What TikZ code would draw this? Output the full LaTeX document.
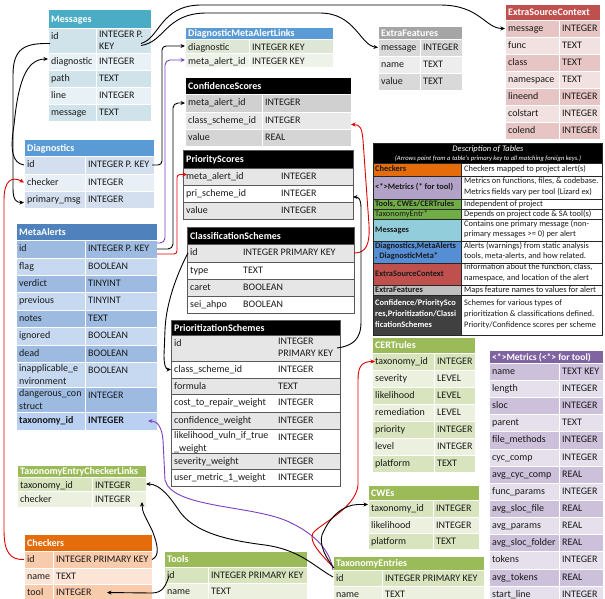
\documentclass[tikz,border=0pt]{standalone}
\usepackage{fontspec}
\setmainfont{Carlito}
\usetikzlibrary{arrows.meta,fit}

% palette
\definecolor{txt}{HTML}{1A1A1A}
\definecolor{msgH}{HTML}{4BACC6}\definecolor{msgA}{HTML}{D0E3EA}\definecolor{msgB}{HTML}{E8F1F5}
\definecolor{dgH}{HTML}{5B9BD5}\definecolor{dgA}{HTML}{D3DFEE}\definecolor{dgB}{HTML}{E9EFF7}
\definecolor{maH}{HTML}{4F81BD}\definecolor{maA}{HTML}{9DBBE1}\definecolor{maB}{HTML}{C6D9F1}\definecolor{maT}{HTML}{B9D0F3}
\definecolor{dmlA}{HTML}{DEE7D5}\definecolor{dmlB}{HTML}{EEF3E9}
\definecolor{gA}{HTML}{D0D0D0}\definecolor{gB}{HTML}{E8E8E8}\definecolor{gC}{HTML}{D5D5D5}
\definecolor{psA}{HTML}{E6E6E6}\definecolor{brd}{HTML}{595959}
\definecolor{efH}{HTML}{A5A5A5}\definecolor{efA}{HTML}{D9D9D9}\definecolor{efB}{HTML}{EDEDED}
\definecolor{escH}{HTML}{C0504D}\definecolor{escA}{HTML}{E6C5C4}\definecolor{escB}{HTML}{F2E1E1}
\definecolor{grH}{HTML}{9BBB59}\definecolor{grA}{HTML}{D7E4BD}\definecolor{grB}{HTML}{EBF1DE}
\definecolor{chkH}{HTML}{E46C0A}\definecolor{chkA}{HTML}{F8CBAD}\definecolor{chkB}{HTML}{FCE4D6}
\definecolor{metH}{HTML}{8064A2}\definecolor{metA}{HTML}{CCC0DA}\definecolor{metB}{HTML}{E5E0EC}
\definecolor{dMet}{HTML}{B3A2C7}\definecolor{dGrn}{HTML}{70AD47}\definecolor{dMsg}{HTML}{92CDDC}
\definecolor{dDg}{HTML}{558ED5}\definecolor{dEf}{HTML}{BFBFBF}\definecolor{dConf}{HTML}{404040}
\definecolor{lred}{HTML}{E00000}\definecolor{lpurple}{HTML}{7B3FC0}

\newcommand\tabfont{\fontsize{10}{12.5}\selectfont}
\newcommand\descfont{\fontsize{8.4}{10.7}\selectfont}
\newcommand\desclfont{\fontsize{8.4}{10.7}\selectfont\bfseries}

\tikzset{
  rowbox/.style={inner sep=0pt, outer sep=0pt, draw=white, line width=0.8pt},
  headbox/.style={inner sep=0pt, outer sep=0pt, draw=white, line width=0.8pt},
  celltxt/.style={anchor=north west, inner sep=0pt, font=\tabfont, text=txt, align=left, execute at begin node=\strut},
  headtxt/.style={anchor=base west, inner sep=0pt, font=\tabfont\bfseries, text=white},
  colsep/.style={draw=white, line width=0.8pt},
  descbox/.style={inner sep=0pt, outer sep=0pt, draw=black!85, line width=0.6pt},
  desctxt/.style={anchor=west, inner sep=0pt, align=left, font=\descfont, text=txt,
    execute at begin node=\strut, execute at end node=\strut},
  link/.style={line width=0.9pt, -{Stealth[length=4.5pt,width=4pt]}},
}

% header bar: name, x0, x1, ytop, ybot, options, title
\newcommand\thead[7]{%
  \node[headbox, #6, fit={(#2,#4) (#3,#5)}] (#1) {};
  \node[headtxt] (#1-n) at ({#2+3},{(#4+#5)/2+3.5}) {#7};
}
% table row: name, x0, xsplit, x1, ytop, ybot, options, field, type
\newcommand\trow[9]{%
  \node[rowbox, #7, fit={(#2,#5) (#4,#6)}] (#1) {};
  \path[colsep] (#3,#5) -- (#3,#6);
  \node[celltxt] (#1-n) at ({#2+3},{#5+2.5}) {#8};
  \node[celltxt] (#1-t) at ({#3+3},{#5+2.5}) {#9};
}
% description row: name, ytop, ybot, fill, text colour, left, right
\newcommand\drow[7]{%
  \node[descbox, fill=#4, fit={(373,#2) (461,#3)}] (#1-l) {};
  \node[descbox, fill=white, fit={(461,#2) (602,#3)}] (#1-r) {};
  \node[desctxt, text=#5, font=\desclfont] (#1-lt) at (375,{(#2+#3)/2}) {#6};
  \node[desctxt] (#1-rt) at (464,{(#2+#3)/2}) {#7};
}

\begin{document}
\begin{tikzpicture}[x=1pt,y=-1pt]
\useasboundingbox (0,0) rectangle (605,598);
\clip (0,0) rectangle (605,598);
\fill[white] (0,0) rectangle (605,598);

% ---------------- Messages
\thead{msg}{48}{151}{9}{28}{fill=msgH}{Messages}
\trow{msg-id}{48}{96}{151}{28}{53}{fill=msgA}{id}{INTEGER P.\\KEY}
\trow{msg-diag}{48}{96}{151}{53}{70}{fill=msgB}{diagnostic}{INTEGER}
\trow{msg-path}{48}{96}{151}{70}{87}{fill=msgA}{path}{TEXT}
\trow{msg-line}{48}{96}{151}{87}{104}{fill=msgB}{line}{INTEGER}
\trow{msg-text}{48}{96}{151}{104}{121}{fill=msgA}{message}{TEXT}

% ---------------- Diagnostics
\thead{dg}{24}{154}{139}{156}{fill=dgH}{Diagnostics}
\trow{dg-id}{24}{85}{154}{156}{174}{fill=dgA}{id}{INTEGER P. KEY}
\trow{dg-chk}{24}{85}{154}{174}{191}{fill=dgB}{checker}{INTEGER}
\trow{dg-pm}{24}{85}{154}{191}{208}{fill=dgA}{primary\_msg}{INTEGER}

% ---------------- MetaAlerts
\thead{ma}{16}{157}{223}{240}{fill=maH}{MetaAlerts}
\trow{ma-id}{16}{85}{157}{240}{258}{fill=maA}{id}{INTEGER P. KEY}
\trow{ma-flag}{16}{85}{157}{258}{275}{fill=maB}{flag}{BOOLEAN}
\trow{ma-verdict}{16}{85}{157}{275}{292}{fill=maA}{verdict}{TINYINT}
\trow{ma-prev}{16}{85}{157}{292}{310}{fill=maB}{previous}{TINYINT}
\trow{ma-notes}{16}{85}{157}{310}{327}{fill=maA}{notes}{TEXT}
\trow{ma-ign}{16}{85}{157}{327}{345}{fill=maB}{ignored}{BOOLEAN}
\trow{ma-dead}{16}{85}{157}{345}{362}{fill=maA}{dead}{BOOLEAN}
\trow{ma-inapp}{16}{85}{157}{362}{387}{fill=maB}{inapplicable\_e\\nvironment}{BOOLEAN}
\trow{ma-dang}{16}{85}{157}{387}{412}{fill=maA}{dangerous\_con\\struct}{INTEGER}
\trow{ma-tax}{16}{85}{157}{412}{430}{fill=maT}{\textbf{taxonomy\_id}}{\textbf{INTEGER}}

% ---------------- DiagnosticMetaAlertLinks
\thead{dml}{185}{333}{27}{39}{fill=dgH}{DiagnosticMetaAlertLinks}
\trow{dml-diag}{185}{249}{333}{39}{53}{fill=dmlA}{diagnostic}{INTEGER KEY}
\trow{dml-ma}{185}{249}{333}{53}{67}{fill=dmlB}{meta\_alert\_id}{INTEGER KEY}

% ---------------- ConfidenceScores
\thead{cs}{185}{351}{77}{94}{fill=black}{ConfidenceScores}
\trow{cs-ma}{185}{262}{351}{94}{112}{fill=gA}{meta\_alert\_id}{INTEGER}
\trow{cs-cls}{185}{262}{351}{112}{129}{fill=gB}{class\_scheme\_id}{INTEGER}
\trow{cs-val}{185}{262}{351}{129}{146}{fill=gC}{value}{REAL}

% ---------------- ExtraFeatures
\thead{ef}{378}{462}{26}{39}{fill=efH}{ExtraFeatures}
\trow{ef-msg}{378}{420}{462}{39}{56}{fill=efA}{message}{INTEGER}
\trow{ef-name}{378}{420}{462}{56}{73}{fill=efB}{name}{TEXT}
\trow{ef-val}{378}{420}{462}{73}{90}{fill=efA}{value}{TEXT}

% ---------------- ExtraSourceContext
\thead{esc}{505}{600}{4}{20}{fill=escH}{ExtraSourceContext}
\trow{esc-msg}{505}{559}{600}{20}{37}{fill=escA}{message}{INTEGER}
\trow{esc-func}{505}{559}{600}{37}{54}{fill=escB}{func}{TEXT}
\trow{esc-class}{505}{559}{600}{54}{71}{fill=escA}{class}{TEXT}
\trow{esc-ns}{505}{559}{600}{71}{88}{fill=escB}{namespace}{TEXT}
\trow{esc-le}{505}{559}{600}{88}{105}{fill=escA}{lineend}{INTEGER}
\trow{esc-cs}{505}{559}{600}{105}{122}{fill=escB}{colstart}{INTEGER}
\trow{esc-ce}{505}{559}{600}{122}{139}{fill=escA}{colend}{INTEGER}

% ---------------- framed grey tables
\begin{scope}[colsep/.style={draw=none}]
\thead{ps}{183}{353}{150}{168}{fill=black, draw=brd}{PriorityScores}
\trow{ps-ma}{183}{278}{353}{168}{185}{fill=psA, draw=brd}{meta\_alert\_id}{INTEGER}
\trow{ps-pri}{183}{278}{353}{185}{202}{fill=white, draw=brd}{pri\_scheme\_id}{INTEGER}
\trow{ps-val}{183}{278}{353}{202}{219}{fill=psA, draw=brd}{value}{INTEGER}

\thead{cls}{187}{354}{227}{244}{fill=black, draw=brd}{ClassificationSchemes}
\trow{cls-id}{187}{240}{354}{244}{262}{fill=psA, draw=brd}{id}{INTEGER PRIMARY KEY}
\trow{cls-type}{187}{240}{354}{262}{279}{fill=white, draw=brd}{type}{TEXT}
\trow{cls-caret}{187}{240}{354}{279}{296}{fill=psA, draw=brd}{caret}{BOOLEAN}
\trow{cls-sei}{187}{240}{354}{296}{313}{fill=white, draw=brd}{sei\_ahpo}{BOOLEAN}

\thead{pz}{171}{340}{320}{335}{fill=black, draw=brd}{PrioritizationSchemes}
\trow{pz-id}{171}{275}{340}{335}{361}{fill=psA, draw=brd}{id}{INTEGER\\PRIMARY KEY}
\trow{pz-cls}{171}{275}{340}{361}{378}{fill=white, draw=brd}{class\_scheme\_id}{INTEGER}
\trow{pz-form}{171}{275}{340}{378}{394}{fill=psA, draw=brd}{formula}{TEXT}
\trow{pz-cost}{171}{275}{340}{394}{412}{fill=white, draw=brd}{cost\_to\_repair\_weight}{INTEGER}
\trow{pz-conf}{171}{275}{340}{412}{429}{fill=psA, draw=brd}{confidence\_weight}{INTEGER}
\trow{pz-like}{171}{275}{340}{429}{453}{fill=white, draw=brd}{likelihood\_vuln\_if\_true\\\_weight}{INTEGER}
\trow{pz-sev}{171}{275}{340}{453}{469}{fill=psA, draw=brd}{severity\_weight}{INTEGER}
\trow{pz-user}{171}{275}{340}{469}{486}{fill=white, draw=brd}{user\_metric\_1\_weight}{INTEGER}
\end{scope}

% ---------------- Description of tables
\node[descbox, fill=black, fit={(373,143) (602,163)}] (desc) {};
\node[inner sep=0pt, font=\fontsize{8.5}{9}\selectfont\itshape, text=white] (desc-title) at (488,149.5) {Description of Tables};
\node[inner sep=0pt, font=\fontsize{6.6}{7}\selectfont\itshape, text=white] (desc-sub) at (488,158.5) {(Arrows point from a table's primary key to all matching foreign keys.)};
\drow{d1}{163}{176}{chkH}{txt}{Checkers}{Checkers mapped to project alert(s)}
\drow{d2}{176}{199}{dMet}{txt}{<*>Metrics (* for tool)}{Metrics on functions, files, \& codebase.\\Metrics fields vary per tool (Lizard ex)}
\drow{d3}{199}{209}{dGrn}{txt}{Tools, CWEs/CERTrules}{Independent of project}
\drow{d4}{209}{219}{dGrn}{txt}{\mdseries TaxonomyEntr*}{Depends on project code \& SA tool(s)}
\drow{d5}{219}{241}{dMsg}{txt}{Messages}{Contains one primary message (non-\\primary messages >= 0) per alert}
\drow{d6}{241}{263}{dDg}{txt}{Diagnostics,MetaAlerts\\, DiagnosticMeta*}{Alerts (warnings) from static analysis\\tools, meta-alerts, and how related.}
\drow{d7}{263}{285}{escH}{txt}{ExtraSourceContext}{Information about the function, class,\\namespace, and location of the alert}
\drow{d8}{285}{295}{dEf}{txt}{ExtraFeatures}{Maps feature names to values for alert}
\drow{d9}{295}{335}{dConf}{white}{Confidence/PrioritySco\\res,Prioritization/Classi\\ficationSchemes}{Schemes for various types of\\prioritization \& classifications defined.\\Priority/Confidence scores per scheme}

% ---------------- CERTrules
\thead{cert}{372}{475}{337}{353}{fill=grH}{CERTrules}
\trow{cert-tax}{372}{434}{475}{353}{370}{fill=grA}{taxonomy\_id}{INTEGER}
\trow{cert-sev}{372}{434}{475}{370}{387}{fill=grB}{severity}{LEVEL}
\trow{cert-like}{372}{434}{475}{387}{404}{fill=grA}{likelihood}{LEVEL}
\trow{cert-rem}{372}{434}{475}{404}{421}{fill=grB}{remediation}{LEVEL}
\trow{cert-pri}{372}{434}{475}{421}{438}{fill=grA}{priority}{INTEGER}
\trow{cert-lvl}{372}{434}{475}{438}{455}{fill=grB}{level}{INTEGER}
\trow{cert-plat}{372}{434}{475}{455}{472}{fill=grA}{platform}{TEXT}

% ---------------- CWEs
\thead{cwe}{368}{479}{485}{500}{fill=grH}{CWEs}
\trow{cwe-tax}{368}{433}{479}{500}{517}{fill=grA}{taxonomy\_id}{INTEGER}
\trow{cwe-like}{368}{433}{479}{517}{533}{fill=grB}{likelihood}{INTEGER}
\trow{cwe-plat}{368}{433}{479}{533}{549}{fill=grA}{platform}{TEXT}

% ---------------- <*>Metrics
\thead{met}{489}{603}{350}{363}{fill=metH}{\fontsize{9.6}{11}\selectfont <*>Metrics (<*> for tool)}
\trow{met-1}{489}{559}{603}{363}{380}{fill=metA}{name}{TEXT KEY}
\trow{met-2}{489}{559}{603}{380}{397}{fill=metB}{length}{INTEGER}
\trow{met-3}{489}{559}{603}{397}{414.5}{fill=metA}{sloc}{INTEGER}
\trow{met-4}{489}{559}{603}{414.5}{431.5}{fill=metB}{parent}{TEXT}
\trow{met-5}{489}{559}{603}{431.5}{449}{fill=metA}{file\_methods}{INTEGER}
\trow{met-6}{489}{559}{603}{449}{466}{fill=metB}{cyc\_comp}{INTEGER}
\trow{met-7}{489}{559}{603}{466}{483}{fill=metA}{avg\_cyc\_comp}{REAL}
\trow{met-8}{489}{559}{603}{483}{500}{fill=metB}{func\_params}{INTEGER}
\trow{met-9}{489}{559}{603}{500}{517.5}{fill=metA}{avg\_sloc\_file}{REAL}
\trow{met-10}{489}{559}{603}{517.5}{534.5}{fill=metB}{avg\_params}{REAL}
\trow{met-11}{489}{559}{603}{534.5}{551.5}{fill=metA}{avg\_sloc\_folder}{REAL}
\trow{met-12}{489}{559}{603}{551.5}{569}{fill=metB}{tokens}{INTEGER}
\trow{met-13}{489}{559}{603}{569}{586}{fill=metA}{avg\_tokens}{REAL}
\trow{met-14}{489}{559}{603}{586}{603}{fill=metB}{start\_line}{INTEGER}

% ---------------- TaxonomyEntryCheckerLinks
\thead{tecl}{17}{146}{465}{477}{fill=grH}{TaxonomyEntryCheckerLinks}
\trow{tecl-tax}{17}{92}{146}{477}{491}{fill=grA}{taxonomy\_id}{INTEGER}
\trow{tecl-chk}{17}{92}{146}{491}{507}{fill=grB}{checker}{INTEGER}

% ---------------- Checkers
\thead{chk}{24}{152}{534}{551}{fill=chkH}{Checkers}
\trow{chk-id}{24}{53}{152}{551}{568}{fill=chkA}{id}{INTEGER PRIMARY KEY}
\trow{chk-name}{24}{53}{152}{568}{584}{fill=chkB}{name}{TEXT}
\trow{chk-tool}{24}{53}{152}{584}{601}{fill=chkA}{tool}{INTEGER}

% ---------------- Tools
\thead{tool}{164}{307}{551}{567}{fill=grH}{Tools}
\trow{tool-id}{164}{208}{307}{567}{583}{fill=grA}{id}{INTEGER PRIMARY KEY}
\trow{tool-name}{164}{208}{307}{583}{600}{fill=grB}{name}{TEXT}

% ---------------- TaxonomyEntries
\thead{te}{333}{484}{556}{570}{fill=grH}{TaxonomyEntries}
\trow{te-id}{333}{382}{484}{570}{586}{fill=grA}{id}{INTEGER PRIMARY KEY}
\trow{te-name}{333}{382}{484}{586}{602}{fill=grB}{name}{TEXT}

% ================= key links
% Messages.id
\draw[link] ([xshift=-10pt,yshift=-3pt]msg-id.east) .. controls (160,38) and (160,6) .. (200,5)
  -- (440,5) .. controls (480,5) and (485,28.5) .. (esc-msg.west);
\draw[link] ([xshift=-10pt,yshift=-5pt]msg-id.east) .. controls (165,42) and (165,14) .. (205,13)
  -- (320,13) .. controls (355,13) and (360,45) .. (ef-msg.west);
\draw[link] ([xshift=2pt,yshift=-3pt]msg-id.west) .. controls (25,43) and (13,48) .. (13,75)
  -- (13,188) .. controls (13,200) and (16,202.5) .. ([yshift=-3pt]dg-pm.west);
% Diagnostics.id
\draw[link] (dg-id.west) .. controls (12,163) and (10,150) .. (14,125)
  .. controls (18,85) and (25,59) .. ([yshift=2.5pt]msg-diag.west);
\draw[link, rounded corners=4pt] ([xshift=-2pt]dg-id.east) -- ++(10,0) |- (dml-diag.west);
% MetaAlerts.id
\draw[link, draw=lpurple, rounded corners=5pt] ([yshift=6pt]ma-id.east) -- ++(8,0) |- (dml-ma.west);
\draw[link, rounded corners=5pt] (ma-id.east) -- ++(16,0) |- (cs-ma.west);
\draw[link, draw=lred, rounded corners=3pt] ([yshift=-5pt]ma-id.east) -- ++(20,0) |- ([xshift=4pt,yshift=2pt]ps-ma.west);
% ClassificationSchemes.id
\draw[link, draw=lred] (cls-id.east) .. controls (366,253) and (370,245) .. (369,225)
  -- (363,140) .. controls (362,128) and (360,124.5) .. ([yshift=-4pt]cs-cls.east);
\draw[link] ([xshift=1pt]cls-id.west) .. controls (180,268) and (166,300) .. (165,330)
  -- (164,355) .. controls (164,366) and (166,369.5) .. (pz-cls.west);
% PrioritizationSchemes.id
\draw[link] ([xshift=-3pt]pz-id.east) .. controls (352,346) and (361,340) .. (361,322)
  -- (361,208) .. controls (361,200) and (359,197) .. ([yshift=-3.5pt]ps-pri.east);
% TaxonomyEntries.id
\draw[link, draw=lpurple] (te-id.north west) .. controls (330,552) and (318,535) .. (287,521)
  .. controls (250,505) and (172,508) .. (165,480) -- (163,440)
  .. controls (162,428) and (158,421) .. ([xshift=-9pt]ma-tax.east);
\draw[link, draw=lred] ([xshift=-1pt,yshift=4pt]te-id.north west) .. controls (322,555) and (308,542) .. (313,533)
  .. controls (320,524) and (356,508) .. (358,485) -- (358,380)
  .. controls (358,366) and (362,361.5) .. ([xshift=3pt]cert-tax.west);
\draw[link] ([xshift=1pt,yshift=2pt]te-id.north west) .. controls (326,558) and (319,545) .. (322,535)
  .. controls (330,515) and (345,504.5) .. (358,504.5) -- ([yshift=4pt]cwe-tax.west);
\draw[link] ([yshift=1pt]te-id.west) .. controls (312,565) and (300,550) .. (265,545)
  .. controls (225,540) and (195,532) .. (180,512)
  .. controls (170,497) and (160,484) .. (tecl-tax.east);
% Checkers.id
\draw[link] (chk-id.east) .. controls (160,556) and (158,545) .. (152,530)
  .. controls (146,518) and (142,512) .. ([xshift=-4pt,yshift=5pt]tecl-chk.south east);
\draw[link, draw=lred] (chk-id.west) .. controls (10,560) and (4,552) .. (4,530)
  -- (4,200) .. controls (4,180) and (12,176) .. (dg-chk.west);
% Tools.id
\draw[link] ([xshift=5pt,yshift=-1pt]tool-id.west) .. controls (166,585) and (163,593) .. (152,593)
  -- ([xshift=-45pt]chk-tool.east);
\end{tikzpicture}
\end{document}
